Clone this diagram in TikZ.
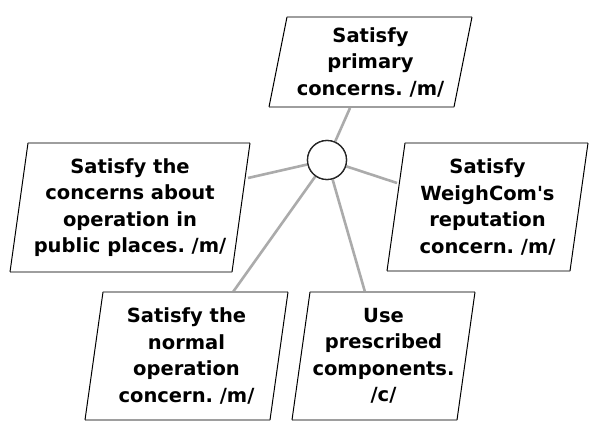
\documentclass[tikz,border=0pt]{standalone}
\usepackage{fontspec}
\setmainfont{DejaVu Sans}[Ligatures=TeXOff]
\frenchspacing
\begin{document}
\begin{tikzpicture}[x=1pt,y=-1pt,
  lbl/.style={align=center,font=\bfseries\fontsize{19.5}{26.5}\selectfont,inner sep=0pt},
  edgetb/.style={draw=black!38,line width=2pt},
  edgeside/.style={draw=black,line width=1pt},
  conn/.style={draw=black!33,line width=2.6pt},
  junction/.style={circle,draw=black!85,line width=1.3pt,fill=white,minimum size=39pt,inner sep=0pt}]
\useasboundingbox (0,0) rectangle (592,422);
\fill[white] (0,0) rectangle (592,422);
% parallelogram boxes
\newcommand{\pgbox}[7]{%
  \coordinate (#1tl) at (#2,#4);
  \coordinate (#1tr) at (#3,#4);
  \coordinate (#1br) at ({#3-#6},#5);
  \coordinate (#1bl) at ({#2-#6},#5);
  \draw[edgetb] (#1tl) -- (#1tr);
  \draw[edgetb] (#1bl) -- (#1br);
  \draw[edgeside] (#1tl) -- (#1bl);
  \draw[edgeside] (#1tr) -- (#1br);
  \node[lbl] (#1) at ({(#2+#3-#6)/2},{(#4+#5)/2}) {#7};}
% junction
\node[junction] (j) at (327,160) {};
% connector anchor points
\coordinate (ptop) at (350,108);
\coordinate (pleft) at (248,178);
\coordinate (pright) at (397,183);
\coordinate (pbl) at (233,292);
\coordinate (pbr) at (365,292);
\draw[conn] (ptop) -- (j);
\draw[conn] (pleft) -- (j);
\draw[conn] (pright) -- (j);
\draw[conn] (pbl) -- (j);
\draw[conn] (pbr) -- (j);
\node[junction] at (327,160) {};
\pgbox{top}{287}{472}{17}{107}{18}{Satisfy\\primary\\concerns. /m/}
\pgbox{left}{28}{250}{143}{272}{18}{Satisfy the\\concerns about\\operation in\\public places. /m/}
\pgbox{right}{405}{588}{143}{271}{18}{Satisfy\\WeighCom's\\reputation\\concern. /m/}
\pgbox{bl}{103}{288}{292}{420}{18}{Satisfy the\\normal\\operation\\concern. /m/}
\pgbox{br}{310}{475}{292}{420}{18}{Use\\prescribed\\components.\\/c/}
\end{tikzpicture}
\end{document}
